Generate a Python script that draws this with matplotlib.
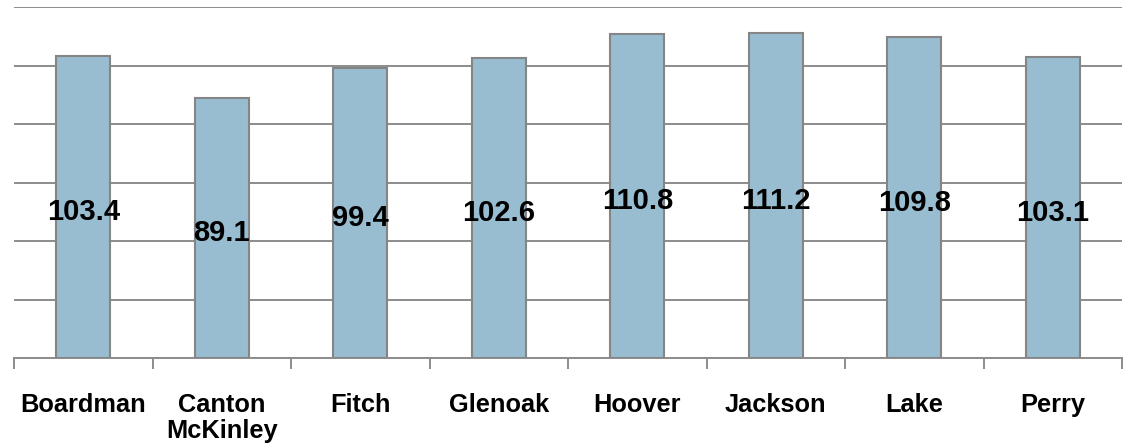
import numpy as np
import matplotlib.pyplot as plt

schools = ["Boardman", "Canton\nMcKinley", "Fitch", "Glenoak", "Hoover", "Jackson", "Lake", "Perry"]
scores = [103.4, 89.1, 99.4, 102.6, 110.8, 111.2, 109.8, 103.1]

plt.rcParams['font.family'] = ['Liberation Sans', 'DejaVu Sans']

fig = plt.figure(figsize=(11.32, 4.46), dpi=100)
ax = fig.add_axes([0.0124, 0.1973, 0.9788, 0.7863])

x = np.arange(len(schools))
ax.bar(x, scores, width=0.39, color="#98bdd1", edgecolor="#858585", linewidth=1.5, zorder=3)

# value labels sit a little under the middle of each bar
for xi, v in zip(x, scores):
    ax.text(xi, v / 2 - 1.8, f"{v:.1f}", ha="center", va="center",
            fontsize=21, fontweight="bold", color="black", zorder=4)

ax.set_xlim(-0.5, len(schools) - 0.5)
ax.set_ylim(0, 120)
ax.set_yticks(np.arange(0, 121, 20))
ax.yaxis.grid(True, color="#8c8c8c", linewidth=1.4, zorder=0)
ax.tick_params(axis="y", left=False, labelleft=False)

ax.set_xticks(x)
ax.set_xticklabels(schools, fontsize=18.3, fontweight="bold", va="top", linespacing=1.1)
ax.set_xticks(np.arange(-0.5, len(schools)), minor=True)
ax.tick_params(axis="x", which="major", length=0, pad=25)
ax.tick_params(axis="x", which="minor", length=8, width=1.4, color="#8c8c8c")

for s in ["top", "left", "right"]:
    ax.spines[s].set_visible(False)
ax.spines["bottom"].set_color("#8c8c8c")
ax.spines["bottom"].set_linewidth(1.4)

plt.savefig("out.png", dpi=100)
